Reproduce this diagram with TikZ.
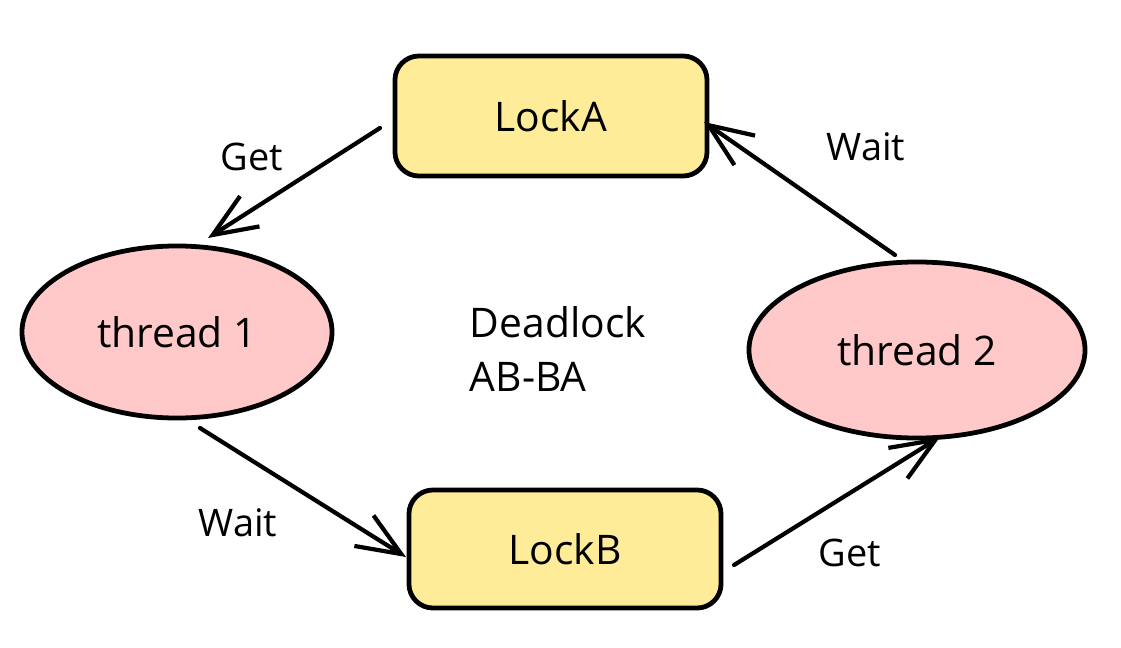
\documentclass[tikz,border=0pt]{standalone}
\usepackage{xcolor}
\usepackage{fontspec}
\setmainfont{Open Sans}
\usepackage{tikz}
\usetikzlibrary{positioning,shapes.geometric,arrows.meta,calc}

\definecolor{lockyellow}{HTML}{FFEC99}
\definecolor{threadpink}{HTML}{FFC9C9}

\begin{document}
\begin{tikzpicture}[x=0.025cm,y=-0.025cm,
		lock/.style={rectangle,rounded corners=0.6cm,draw,line width=3.4pt,fill=lockyellow,minimum width=7.8cm,minimum height=3cm,outer sep=0pt,font=\fontsize{29}{36}\selectfont},
		thread/.style={ellipse,draw,line width=3.4pt,fill=threadpink,outer sep=0pt,font=\fontsize{29}{36}\selectfont},
		lbl/.style={font=\fontsize{27}{34}\selectfont},
		arr/.style={line width=3pt,line cap=round,-{Straight Barb[length=1.1cm,width=0.9cm,line width=3pt]}}]
			
			\useasboundingbox (0,0) rectangle (1121,647);
			
			\node[lock] (lockA) at (551,116) {LockA};
			\node[lock,minimum height=2.95cm] (lockB) at (565,549) {LockB};
			\node[thread,minimum width=7.75cm,minimum height=4.3cm] (t1) at (177,332) {thread 1};
			\node[thread,minimum width=8.4cm,minimum height=4.4cm] (t2) at (917,350) {thread 2};
			
			\node[font=\fontsize{29}{39}\selectfont,align=left,anchor=west] (dead) at (465,349) {Deadlock\\AB-BA};
			
			\draw[arr] ($(lockA.west)+(-15,12)$) -- ($(t1.north)+(31,-8)$);
			\draw[arr] ($(t2.north)+(-22,-7)$) -- ($(lockA.east)+(-3,6)$);
			\draw[arr] ($(t1.south)+(23,10)$) -- ($(lockB.west)+(-3,8)$);
			\draw[arr] ($(lockB.east)+(13,16)$) -- ($(t2.south)+(23,-1)$);
			
			\node[lbl] (getA) at (252,157) {Get};
			\node[lbl] (waitA) at (866,147) {Wait};
			\node[lbl] (waitB) at (238,523) {Wait};
			\node[lbl] (getB) at (850,553) {Get};
			
		\end{tikzpicture}
\end{document}
